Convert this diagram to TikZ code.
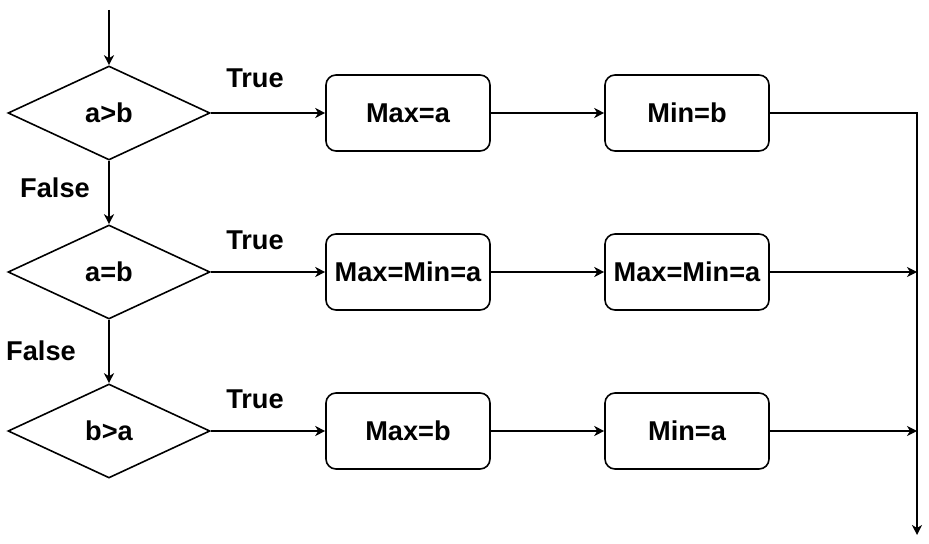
\documentclass[tikz,border=0pt]{standalone}
\usepackage{fontspec}
\setmainfont{Liberation Sans}
\usepackage{tikz}
\usetikzlibrary{shapes,arrows.meta,positioning,calc}

\begin{document}
\begin{tikzpicture}[x=0.5pt, y=-0.5pt, line width=0.8pt,
    every node/.style={font=\bfseries\fontsize{13.6}{15}\selectfont},
    decision/.style={draw, diamond, minimum width=101pt, minimum height=47pt, inner sep=0pt},
    process/.style={draw, rectangle, rounded corners=5pt, minimum width=82pt, minimum height=38pt, inner sep=0pt},
    flow/.style={-{Stealth[length=5pt, width=5pt, inset=1.5pt]}}]
    \useasboundingbox (0,0) rectangle (929,544);

    % Decisions
    \node[decision] (gt) at (109,113) {a>b};
    \node[decision] (eq) at (109,272) {a=b};
    \node[decision] (lt) at (109,431) {b>a};

    % Assignments
    \node[process] (max1) at (408,113) {Max=a};
    \node[process] (min1) at (687,113) {Min=b};
    \node[process] (max2) at (408,272) {Max=Min=a};
    \node[process] (min2) at (687,272) {Max=Min=a};
    \node[process] (max3) at (408,431) {Max=b};
    \node[process] (min3) at (687,431) {Min=a};

    % Labels
    \node (t1) at (255,78) {True};
    \node (t2) at (255,240) {True};
    \node (t3) at (255,399) {True};
    \node (f1) at (55,188) {False};
    \node (f2) at (41,351) {False};

    % Merge line
    \coordinate (start) at (109,10);
    \coordinate (j1) at (917,113);
    \coordinate (j2) at (917,272);
    \coordinate (j3) at (917,431);
    \coordinate (end) at (917,535);

    \draw[flow] (start) -- (gt);
    \draw[flow] (gt) -- (eq);
    \draw[flow] (eq) -- (lt);
    \draw[flow] (gt) -- (max1);
    \draw[flow] (eq) -- (max2);
    \draw[flow] (lt) -- (max3);
    \draw[flow] (max1) -- (min1);
    \draw[flow] (max2) -- (min2);
    \draw[flow] (max3) -- (min3);
    \draw[flow] (min1) -- (j1) -- (end);
    \draw[flow] (min2) -- (j2);
    \draw[flow] (min3) -- (j3);
\end{tikzpicture}
\end{document}
